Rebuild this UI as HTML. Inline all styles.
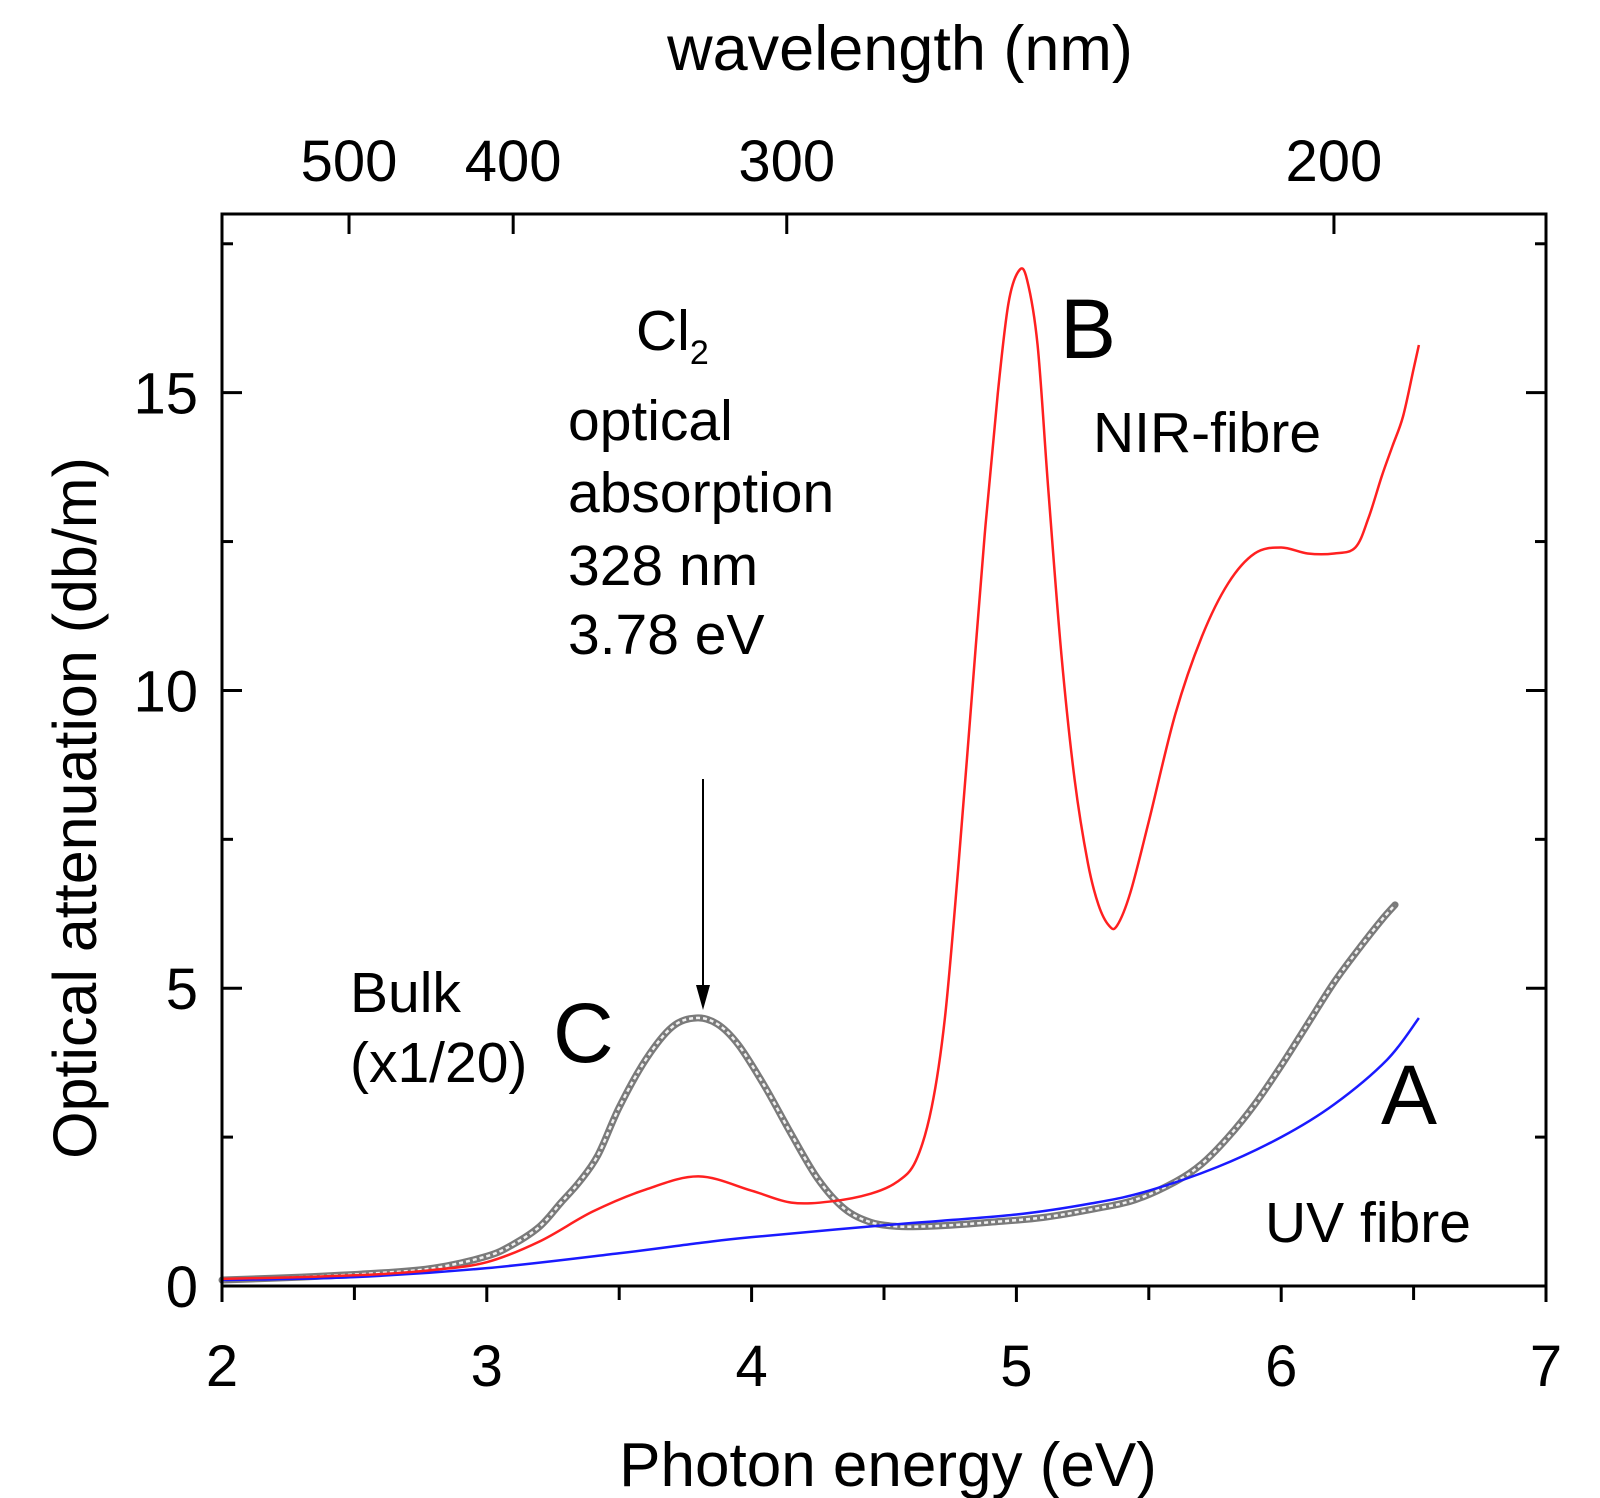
<!DOCTYPE html>
<html><head><meta charset="utf-8"><style>
html,body{margin:0;padding:0;background:#fff;}
svg{display:block;font-family:"Liberation Sans",Arial,sans-serif;}
</style></head><body>
<svg id="chart" width="1600" height="1498" viewBox="0 0 1600 1498" xmlns="http://www.w3.org/2000/svg">
<rect width="1600" height="1498" fill="#fff"/>
<g id="ticks"></g>
<g id="series"></g>
<rect x="222" y="214" width="1324" height="1072" fill="none" stroke="#000" stroke-width="3"/>
<text x="900" y="70" font-size="63" text-anchor="middle">wavelength (nm)</text>
<text x="888" y="1486" font-size="62" text-anchor="middle">Photon energy (eV)</text>
<text transform="translate(96,808) rotate(-90)" font-size="61" text-anchor="middle">Optical attenuation (db/m)</text>
<g font-size="57">
<text x="636" y="350">Cl<tspan font-size="34" dy="14">2</tspan></text>
<text x="568" y="440">optical</text>
<text x="568" y="512">absorption</text>
<text x="568" y="585">328 nm</text>
<text x="568" y="654">3.78 eV</text>
<text x="350" y="1012">Bulk</text>
<text x="350" y="1082">(x1/20)</text>
<text x="1093" y="452">NIR-fibre</text>
<text x="1265" y="1242">UV fibre</text>
<text x="553" y="1062" font-size="84">C</text>
<text x="1060" y="358" font-size="84">B</text>
<text x="1381" y="1124" font-size="84">A</text>
</g>
<line x1="703" y1="779" x2="703" y2="995" stroke="#000" stroke-width="2"/>
<polygon points="696,985 710,985 703,1010" fill="#000"/>
</svg>
<script>
const xTicks=[2,3,4,5,6,7];
const xMinor=[2.5,3.5,4.5,5.5,6.5];
const yTicks=[0,5,10,15];
const yMinor=[2.5,7.5,12.5,17.5];
const wlTicks=[500,400,300,200];
const redE=[2.0,2.3,2.6,2.8,3.0,3.2,3.4,3.6,3.8,4.0,4.15,4.3,4.45,4.55,4.62,4.68,4.73,4.78,4.83,4.88,4.93,4.97,5.01,5.04,5.08,5.12,5.17,5.22,5.27,5.31,5.35,5.38,5.43,5.5,5.6,5.7,5.8,5.9,6.0,6.1,6.2,6.28,6.33,6.38,6.42,6.46,6.5,6.52];
const redV=[0.12,0.15,0.2,0.27,0.4,0.75,1.25,1.62,1.84,1.6,1.4,1.42,1.55,1.75,2.1,3.0,4.5,7.0,9.8,12.6,15.0,16.5,17.05,16.9,15.8,13.4,10.6,8.5,7.1,6.4,6.05,6.05,6.6,7.8,9.6,10.9,11.8,12.3,12.4,12.3,12.3,12.4,12.9,13.6,14.1,14.6,15.4,15.8];
const blackE=[2.0,2.3,2.6,2.8,3.0,3.1,3.2,3.28,3.35,3.42,3.5,3.6,3.7,3.79,3.87,3.95,4.05,4.15,4.25,4.35,4.45,4.55,4.65,4.75,4.9,5.1,5.3,5.45,5.6,5.7,5.8,5.9,6.0,6.1,6.2,6.3,6.38,6.43];
const blackV=[0.1,0.15,0.22,0.3,0.5,0.7,1.0,1.4,1.75,2.2,3.0,3.8,4.35,4.5,4.4,4.05,3.35,2.55,1.8,1.3,1.07,1.0,1.0,1.02,1.07,1.15,1.3,1.45,1.75,2.05,2.5,3.05,3.7,4.4,5.1,5.7,6.15,6.4];
const blueE=[2.0,2.5,3.0,3.5,3.8,4.0,4.5,5.0,5.3,5.5,5.76,6.0,6.2,6.4,6.52];
const blueV=[0.1,0.15,0.3,0.55,0.72,0.82,1.02,1.2,1.4,1.6,2.0,2.5,3.05,3.8,4.5];

const X0=222,X1=1546,Y0=1286,Y1=214;
function xs(e){return X0+(e-2)/5*(X1-X0);}
function ys(v){return Y0-v/18*(Y0-Y1);}
const NS='http://www.w3.org/2000/svg';
function mk(tag,attrs,parent){const el=document.createElementNS(NS,tag);for(const k in attrs)el.setAttribute(k,attrs[k]);parent.appendChild(el);return el;}
const tg=document.getElementById('ticks'), sg=document.getElementById('series');
xTicks.forEach(t=>{
  const l=mk('line',{x1:xs(t),x2:xs(t),y1:Y0,y2:Y0+16,stroke:'#000','stroke-width':3},tg);
  
  
  const tx=mk('text',{x:xs(t),y:1386,'font-size':58,'text-anchor':'middle'},tg);
  tx.textContent=t;
  
  
});
xMinor.forEach(t=>{
  const l=mk('line',{x1:xs(t),x2:xs(t),y1:Y0,y2:Y0+14,stroke:'#000','stroke-width':3},tg);
  
  
});
yTicks.forEach(t=>{
  [[X0,X0+20],[X1,X1-20]].forEach(p=>{
    const l=mk('line',{x1:p[0],x2:p[1],y1:ys(t),y2:ys(t),stroke:'#000','stroke-width':3},tg);
    
    
  });
  const tx=mk('text',{x:198,y:ys(t)+21,'font-size':58,'text-anchor':'end'},tg);
  tx.textContent=t;
  
  
});
yMinor.forEach(t=>{
  [[X0,X0+11],[X1,X1-11]].forEach(p=>{
    const l=mk('line',{x1:p[0],x2:p[1],y1:ys(t),y2:ys(t),stroke:'#000','stroke-width':3},tg);
    
    
  });
});
wlTicks.forEach(w=>{
  const e=1239.84/w;
  const l=mk('line',{x1:xs(e),x2:xs(e),y1:Y1,y2:Y1+20,stroke:'#000','stroke-width':3},tg);
  
  
  const tx=mk('text',{x:xs(e),y:181,'font-size':58,'text-anchor':'middle'},tg);
  tx.textContent=w;
  
  
});
function pathD(E,V){
  const p=E.map((e,i)=>[xs(e),ys(V[i])]);
  let d='M'+p[0][0]+','+p[0][1];
  for(let i=0;i<p.length-1;i++){
    const p0=p[Math.max(0,i-1)],p1=p[i],p2=p[i+1],p3=p[Math.min(p.length-1,i+2)];
    const c1=[p1[0]+(p2[0]-p0[0])/6,p1[1]+(p2[1]-p0[1])/6];
    const c2=[p2[0]-(p3[0]-p1[0])/6,p2[1]-(p3[1]-p1[1])/6];
    d+=' C'+c1[0]+','+c1[1]+' '+c2[0]+','+c2[1]+' '+p2[0]+','+p2[1];
  }
  return d;
}
const bk=mk('path',{d:pathD(blackE,blackV),fill:'none',stroke:'#7a7a7a','stroke-width':7,'stroke-linecap':'round'},sg);


const bk2=mk('path',{d:pathD(blackE,blackV),fill:'none',stroke:'#f0f0f0','stroke-width':2.5,'stroke-dasharray':'4 3'},sg);


const bl=mk('path',{d:pathD(blueE,blueV),fill:'none',stroke:'#1a1aff','stroke-width':2.5},sg);


const rd=mk('path',{d:pathD(redE,redV),fill:'none',stroke:'#ff2020','stroke-width':2.5},sg);


</script>
</body></html>
